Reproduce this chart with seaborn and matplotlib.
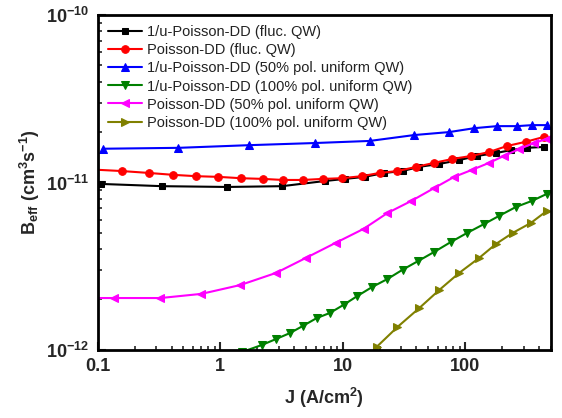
import numpy as np
import pandas as pd
import matplotlib
matplotlib.use("Agg")
import matplotlib.pyplot as plt
import matplotlib.ticker as mticker
import seaborn as sns

# ─── Data ────────────────────────────────────────────────────────────────────
j_black = [0.106, 0.337, 1.14, 3.19, 7.14, 10.4, 15.1, 21.9, 30.8, 42.3,
           61.5, 89.3, 125, 179, 237, 319, 439]
b_black = [9.8e-12, 9.5e-12, 9.4e-12, 9.5e-12, 1.02e-11, 1.05e-11, 1.08e-11,
           1.14e-11, 1.17e-11, 1.24e-11, 1.29e-11, 1.36e-11, 1.44e-11,
           1.50e-11, 1.56e-11, 1.61e-11, 1.63e-11]

j_red = [0.08, 0.157, 0.26, 0.415, 0.638, 0.964, 1.48, 2.24, 3.25, 4.73, 6.87,
         9.8, 14.3, 20.0, 28.0, 40, 56, 78, 112, 157, 219, 313, 439]
b_red = [1.20e-11, 1.17e-11, 1.14e-11, 1.11e-11, 1.09e-11, 1.08e-11, 1.06e-11,
         1.05e-11, 1.035e-11, 1.035e-11, 1.05e-11, 1.06e-11, 1.09e-11,
         1.14e-11, 1.17e-11, 1.24e-11, 1.31e-11, 1.38e-11, 1.44e-11,
         1.52e-11, 1.65e-11, 1.75e-11, 1.87e-11]

j_blue = [0.110, 0.456, 1.72, 5.92, 16.6, 38.5, 74.2, 119, 182, 267, 351, 464]
b_blue = [1.59e-11, 1.61e-11, 1.67e-11, 1.72e-11, 1.77e-11, 1.92e-11,
          2.00e-11, 2.11e-11, 2.17e-11, 2.17e-11, 2.20e-11, 2.20e-11]

j_green = [1.5, 2.19, 2.85, 3.71, 4.73, 6.15, 7.84, 10.2, 13.2, 17.5, 23.2,
           30.8, 41.5, 56, 76.9, 104, 143, 189, 260, 351, 464]
b_green = [0.97e-12, 1.07e-12, 1.16e-12, 1.26e-12, 1.39e-12, 1.55e-12,
           1.66e-12, 1.86e-12, 2.10e-12, 2.38e-12, 2.65e-12, 3.01e-12,
           3.40e-12, 3.85e-12, 4.42e-12, 5.00e-12, 5.65e-12, 6.31e-12,
           7.14e-12, 7.76e-12, 8.54e-12]

j_mag = [0.08, 0.135, 0.325, 0.702, 1.46, 2.85, 5.0, 8.77, 14.8, 23.2, 36.4,
         56, 81.4, 114, 157, 207, 275, 364, 464]
b_mag = [2.04e-12, 2.04e-12, 2.04e-12, 2.16e-12, 2.44e-12, 2.88e-12,
         3.54e-12, 4.36e-12, 5.28e-12, 6.57e-12, 7.76e-12, 9.27e-12,
         1.08e-11, 1.19e-11, 1.31e-11, 1.44e-11, 1.58e-11, 1.72e-11, 1.82e-11]

j_olive = [18.9, 28.0, 42.3, 61.5, 89.3, 130, 179, 245, 344, 464]
b_olive = [1.04e-12, 1.37e-12, 1.78e-12, 2.28e-12, 2.88e-12, 3.54e-12,
           4.30e-12, 5.00e-12, 5.73e-12, 6.76e-12]

labels = ["1/u-Poisson-DD (fluc. QW)",
          "Poisson-DD (fluc. QW)",
          "1/u-Poisson-DD (50% pol. uniform QW)",
          "1/u-Poisson-DD (100% pol. uniform QW)",
          "Poisson-DD (50% pol. uniform QW)",
          "Poisson-DD (100% pol. uniform QW)"]

x_ticks = [0.1, 1, 10, 100]
x_ticklabels = ["0.1", "1", "10", "100"]
y_ticks = [1e-12, 1e-11, 1e-10]
y_ticklabels = [r"$\mathbf{10^{-12}}$", r"$\mathbf{10^{-11}}$", r"$\mathbf{10^{-10}}$"]

# ─── Style ───────────────────────────────────────────────────────────────────
sns.set_style("ticks")
plt.rcParams.update({
    "font.family":       ["Liberation Sans", "DejaVu Sans"],
    "mathtext.fontset":  "custom",
    "mathtext.rm":       "Liberation Sans",
    "mathtext.bf":       "Liberation Sans:bold",
    "axes.linewidth":    2.0,
})

series = [
    (j_black, b_black, "black",   "s", 4.5),
    (j_red,   b_red,   "#FF0000", "o", 5.5),
    (j_blue,  b_blue,  "#0000FF", "^", 5.5),
    (j_green, b_green, "#008000", "v", 5.5),
    (j_mag,   b_mag,   "#FF00FF", "<", 5.5),
    (j_olive, b_olive, "#808000", ">", 5.5),
]

fig = plt.figure(figsize=(5.62, 4.18), dpi=100)
ax = fig.add_axes([0.174, 0.163, 0.806, 0.801])

for (jx, by, col, mk, ms), lab in zip(series, labels):
    df = pd.DataFrame({"J": jx, "B": by})
    sns.lineplot(data=df, x="J", y="B", ax=ax, color=col, marker=mk,
                 markersize=ms, markeredgecolor=col, linewidth=1.5,
                 label=lab, sort=False)

ax.set_xscale("log")
ax.set_yscale("log")
ax.set_xlim(0.1, 500)
ax.set_ylim(1e-12, 1e-10)

ax.xaxis.set_major_locator(mticker.FixedLocator(x_ticks))
ax.xaxis.set_major_formatter(mticker.FixedFormatter(x_ticklabels))
ax.yaxis.set_major_locator(mticker.FixedLocator(y_ticks))
ax.yaxis.set_major_formatter(mticker.FixedFormatter(y_ticklabels))
ax.xaxis.set_minor_locator(mticker.LogLocator(base=10, subs=np.arange(2, 10)))
ax.yaxis.set_minor_locator(mticker.LogLocator(base=10, subs=np.arange(2, 10)))
ax.xaxis.set_minor_formatter(mticker.NullFormatter())
ax.yaxis.set_minor_formatter(mticker.NullFormatter())

ax.tick_params(which="major", direction="in", length=6, width=1.5,
               labelsize=13, top=False, right=False, pad=6)
ax.tick_params(which="minor", direction="in", length=3, width=1.2,
               top=False, right=False)
for lbl in ax.get_xticklabels():
    lbl.set_fontweight("bold")

ax.set_xlabel(r"J (A/cm$^{\mathbf{2}}$)", fontsize=13, fontweight="bold",
              labelpad=8)
ax.set_ylabel(r"B$_{\mathbf{eff}}$ (cm$^{\mathbf{3}}$s$^{\mathbf{-1}}$)",
              fontsize=13, fontweight="bold", labelpad=3)

for s in ax.spines.values():
    s.set_linewidth(2.0)
    s.set_color("black")

leg = ax.legend(loc="upper left", frameon=False, fontsize=10.5,
                handlelength=2.3, labelspacing=0.28, borderaxespad=0.3,
                handletextpad=0.35)
for t in leg.get_texts():
    t.set_color("#222222")

plt.savefig("out.png", dpi=100)
plt.close()
